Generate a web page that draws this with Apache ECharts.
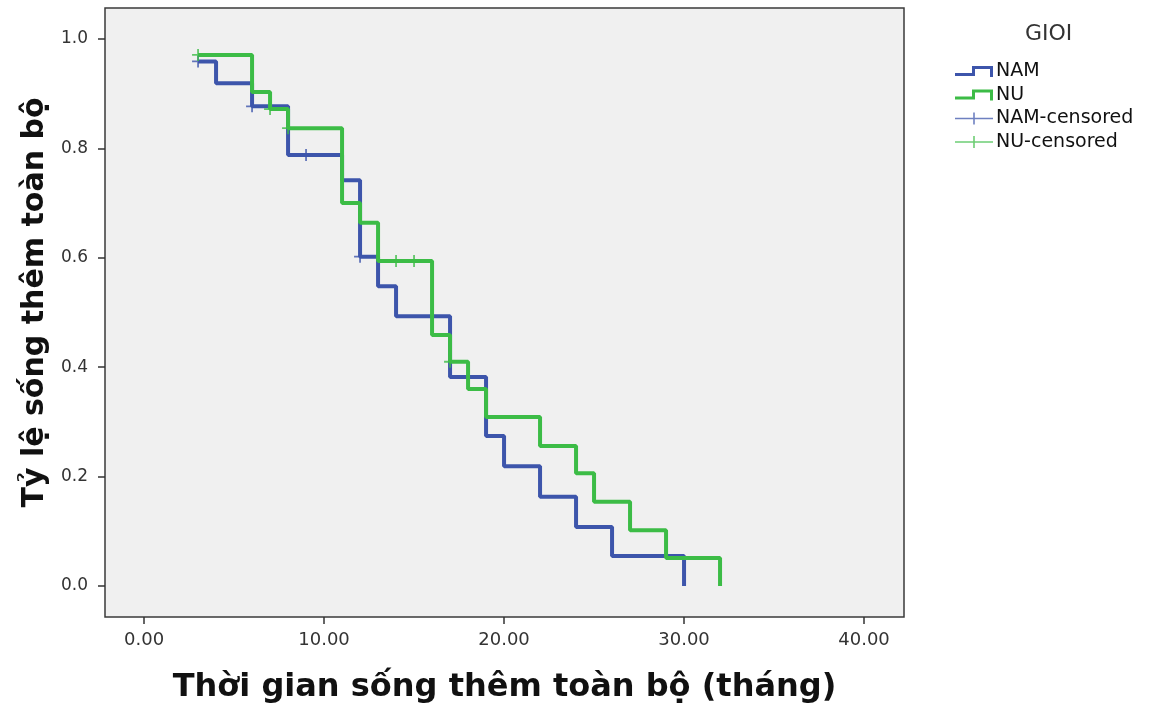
<!DOCTYPE html>
<html>
<head>
<meta charset="utf-8">
<script src="https://cdn.jsdelivr.net/npm/echarts@6/dist/echarts.min.js"></script>
<style>
  html, body { margin: 0; padding: 0; background: #ffffff; }
  #chart { width: 1158px; height: 709px; }
</style>
</head>
<body>
<div id="chart"></div>
<script>
// Kaplan–Meier survival by sex (GIOI)
const groupNames = ['NAM', 'NU'];
const censorNames = ['NAM-censored', 'NU-censored'];

// step start times (months) and survival after each step
const namTimes = [3, 4, 6, 8, 11, 12, 13, 14, 17, 19, 20, 22, 24, 26, 30];
const namSurv  = [0.959, 0.919, 0.877, 0.788, 0.742, 0.602, 0.548, 0.493, 0.382, 0.274, 0.219, 0.163, 0.108, 0.055, 0.000];

const nuTimes = [3, 6, 7, 8, 11, 12, 13, 16, 17, 18, 19, 22, 24, 25, 27, 29, 32];
const nuSurv  = [0.971, 0.903, 0.872, 0.837, 0.700, 0.664, 0.594, 0.459, 0.410, 0.360, 0.309, 0.256, 0.206, 0.154, 0.102, 0.051, 0.000];

// censored observations: time and survival level at that time
const namCensTimes = [3, 6, 9, 12];
const namCensSurv  = [0.959, 0.877, 0.788, 0.602];
const nuCensTimes  = [3, 7, 8, 14, 15, 17];
const nuCensSurv   = [0.971, 0.872, 0.837, 0.594, 0.594, 0.410];

const xTicks = [0, 10, 20, 30, 40];
const yTicks = [0, 0.2, 0.4, 0.6, 0.8, 1.0];

const pair = (xs, ys) => xs.map((x, i) => [x, ys[i]]);

const BLUE = '#3d55ab';
const GREEN = '#3cbc46';
const FONT = '"DejaVu Sans", "Liberation Sans", sans-serif';

const stepIcon = 'path://M0,8H17V1H38V12H35V4H20V11H0Z';
const plusIcon = 'path://M0,5.3H18.2V0H19.8V5.3H38V6.7H19.8V12H18.2V6.7H0Z';
const plusMark = 'path://M0,5.1H5.1V0H6.9V5.1H12V6.9H6.9V12H5.1V6.9H0Z';

const chart = echarts.init(document.getElementById('chart'), null, { renderer: 'canvas' });

chart.setOption({
  backgroundColor: '#ffffff',
  animation: false,
  title: {
    text: 'GIOI',
    left: 1025,
    top: 23,
    padding: 0,
    textStyle: { fontFamily: FONT, fontSize: 22, fontWeight: 'normal', color: '#333' }
  },
  legend: {
    orient: 'vertical',
    left: 955,
    top: 62,
    padding: 0,
    itemWidth: 38,
    itemHeight: 12,
    itemGap: 4.5,
    textStyle: { fontFamily: FONT, fontSize: 19, color: '#111', padding: [0, 0, 0, -2] },
    data: [
      { name: groupNames[0], icon: stepIcon },
      { name: groupNames[1], icon: stepIcon },
      { name: censorNames[0], icon: plusIcon, itemStyle: { opacity: 0.75 } },
      { name: censorNames[1], icon: plusIcon, itemStyle: { opacity: 0.75 } }
    ]
  },
  grid: {
    left: 105, right: 254, top: 8, bottom: 92,
    show: true,
    backgroundColor: '#f0f0f0',
    borderColor: '#3a3a3a',
    borderWidth: 1.5
  },
  xAxis: {
    type: 'value',
    min: -2.17,
    max: 42.22,
    name: 'Thời gian sống thêm toàn bộ (tháng)',
    nameLocation: 'middle',
    nameGap: 55,
    nameTextStyle: { fontFamily: FONT, fontSize: 32, fontWeight: 'bold', color: '#111', verticalAlign: 'top' },
    axisLine: { show: false, onZero: false },
    axisTick: { show: true, customValues: xTicks, length: 7, lineStyle: { color: '#333', width: 1.5 } },
    axisLabel: {
      customValues: xTicks,
      margin: 14,
      fontFamily: FONT, fontSize: 18, color: '#333',
      formatter: v => v.toFixed(2)
    },
    splitLine: { show: false }
  },
  yAxis: {
    type: 'value',
    min: -0.0567,
    max: 1.0567,
    name: 'Tỷ lệ sống thêm toàn bộ',
    nameLocation: 'middle',
    nameRotate: 90,
    nameGap: 48,
    nameTextStyle: {
      fontFamily: FONT, fontSize: 30, fontWeight: 'bold', color: '#111',
      verticalAlign: 'bottom', padding: [0, 0, 0, 20]
    },
    axisLine: { show: false, onZero: false },
    axisTick: { show: true, customValues: yTicks, length: 7, lineStyle: { color: '#333', width: 1.5 } },
    axisLabel: {
      customValues: yTicks,
      margin: 17,
      fontFamily: FONT, fontSize: 17, color: '#333',
      formatter: v => v.toFixed(1)
    },
    splitLine: { show: false }
  },
  series: [
    {
      name: groupNames[0],
      type: 'line',
      step: 'end',
      data: pair(namTimes, namSurv),
      showSymbol: false,
      symbol: 'none',
      color: BLUE,
      lineStyle: { color: BLUE, width: 4 },
      z: 3
    },
    {
      name: groupNames[1],
      type: 'line',
      step: 'end',
      data: pair(nuTimes, nuSurv),
      showSymbol: false,
      symbol: 'none',
      color: GREEN,
      lineStyle: { color: GREEN, width: 4 },
      z: 4
    },
    {
      name: censorNames[0],
      type: 'scatter',
      data: pair(namCensTimes, namCensSurv),
      symbol: plusMark,
      symbolSize: 12,
      color: BLUE,
      itemStyle: { color: BLUE },
      z: 5
    },
    {
      name: censorNames[1],
      type: 'scatter',
      data: pair(nuCensTimes, nuCensSurv),
      symbol: plusMark,
      symbolSize: 12,
      color: GREEN,
      itemStyle: { color: GREEN },
      z: 6
    }
  ]
});
</script>
</body>
</html>
